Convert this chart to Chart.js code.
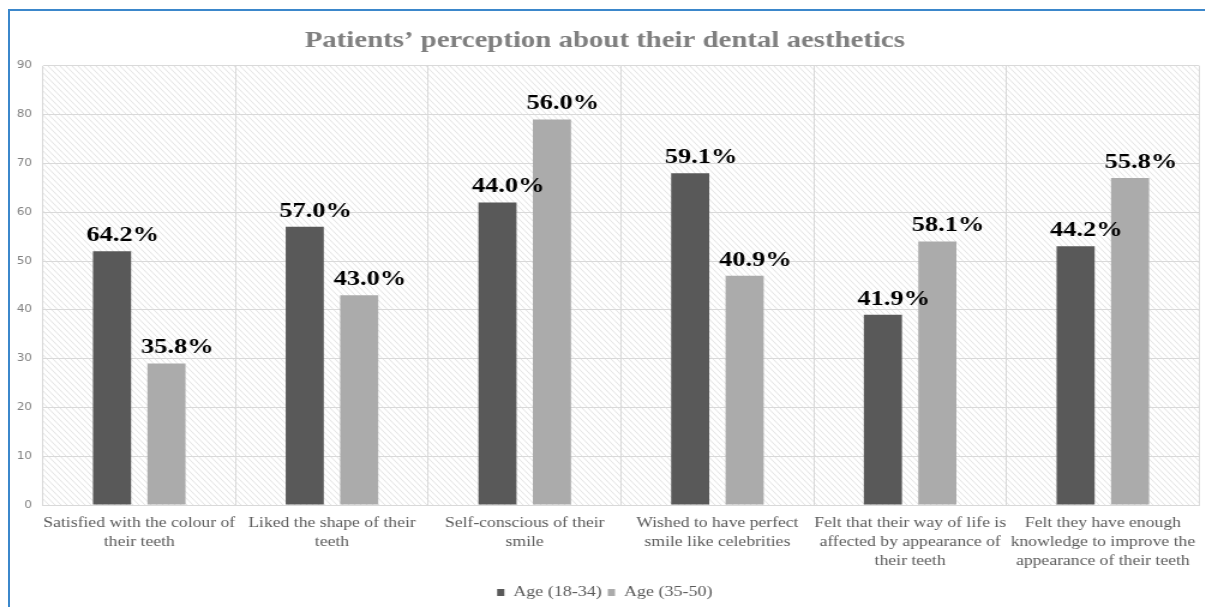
<!DOCTYPE html>
<html>
<head>
<meta charset="utf-8">
<script src="https://cdn.jsdelivr.net/npm/chart.js@4/dist/chart.umd.min.js"></script>
<style>
  html, body { margin: 0; padding: 0; background: #fff; overflow: hidden; }
  #wrap { position: relative; width: 1205px; height: 607px; }
  /* the source picture is stretched sideways, so the chart is too */
  #stretch { position: absolute; left: 0; top: 0; width: 1004px; height: 607px;
             transform: scaleX(1.2); transform-origin: 0 0; }
  #frame {
    position: absolute; left: 8px; top: 9px; right: 0; bottom: 0;
    border-top: 2px solid #3b87cb; border-left: 2px solid #3b87cb;
    pointer-events: none;
  }
</style>
</head>
<body>
<div id="wrap">
  <div id="stretch"><canvas id="chart" width="1004" height="607"></canvas></div>
  <div id="frame"></div>
</div>
<script>
const categories = [
  ['Satisfied with the colour of', 'their teeth'],
  ['Liked the shape of their', 'teeth'],
  ['Self-conscious of their', 'smile'],
  ['Wished to have perfect', 'smile like celebrities'],
  ['Felt that their way of life is', 'affected by appearance of', 'their teeth'],
  ['Felt they have enough', 'knowledge to improve the', 'appearance of their teeth'],
];
const younger = [52, 57, 62, 68, 39, 53];
const older = [29, 43, 79, 47, 54, 67];
const youngerPct = ['64.2%', '57.0%', '44.0%', '59.1%', '41.9%', '44.2%'];
const olderPct = ['35.8%', '43.0%', '56.0%', '40.9%', '58.1%', '55.8%'];
const yTicks = [0, 10, 20, 30, 40, 50, 60, 70, 80, 90];

const serif = '"Liberation Serif", "Times New Roman", serif';

// diagonal hatch behind the plot area
function hatchPattern(ctx) {
  const c = document.createElement('canvas');
  c.width = 5; c.height = 6;
  const p = c.getContext('2d');
  p.fillStyle = '#fff';
  p.fillRect(0, 0, 5, 6);
  p.strokeStyle = '#dcdcdc';
  p.lineWidth = 0.8;
  p.beginPath();
  p.moveTo(-5, -6); p.lineTo(10, 12);
  p.moveTo(-5, 0); p.lineTo(5, 12);
  p.moveTo(0, -6); p.lineTo(10, 6);
  p.stroke();
  return ctx.createPattern(c, 'repeat');
}

const hatchBg = {
  id: 'hatchBg',
  beforeDraw(chart) {
    const { ctx, chartArea: a } = chart;
    ctx.save();
    ctx.fillStyle = hatchPattern(ctx);
    ctx.fillRect(a.left, a.top, a.right - a.left, a.bottom - a.top);
    ctx.restore();
  }
};

const pctLabels = {
  id: 'pctLabels',
  afterDatasetsDraw(chart) {
    const ctx = chart.ctx;
    const texts = [youngerPct, olderPct];
    ctx.save();
    ctx.font = 'bold 22px ' + serif;
    ctx.fillStyle = '#000';
    ctx.textAlign = 'center';
    ctx.textBaseline = 'alphabetic';
    chart.data.datasets.forEach((ds, i) => {
      chart.getDatasetMeta(i).data.forEach((bar, j) => {
        ctx.fillText(texts[i][j], bar.x + 9, bar.y - 10);
      });
    });
    ctx.restore();
  }
};

new Chart(document.getElementById('chart'), {
  type: 'bar',
  data: {
    labels: categories,
    datasets: [
      { label: 'Age (18-34)', data: younger, backgroundColor: '#595959' },
      { label: 'Age (35-50)', data: older, backgroundColor: '#ababab' },
    ],
  },
  options: {
    responsive: false,
    animation: false,
    layout: { padding: { left: 5, right: 1, top: 26, bottom: -3 } },
    datasets: { bar: { categoryPercentage: 0.565, barPercentage: 0.7 } },
    scales: {
      x: {
        grid: { color: '#d9d9d9', drawTicks: false },
        border: { color: '#d9d9d9' },
        afterFit(axis) { axis.height = 75; },
        ticks: {
          color: '#595959',
          padding: 8,
          maxRotation: 0,
          autoSkip: false,
          font: { family: serif, size: 14.7, lineHeight: 1.32 },
        },
      },
      y: {
        min: 0,
        max: 90,
        afterBuildTicks(axis) { axis.ticks = yTicks.map(v => ({ value: v })); },
        grid: { color: '#d9d9d9', drawTicks: false },
        border: { display: false },
        ticks: {
          color: '#808080',
          padding: 9,
          font: { family: '"DejaVu Sans", sans-serif', size: 10 },
        },
      },
    },
    plugins: {
      title: {
        display: true,
        text: 'Patients\u2019 perception about their dental aesthetics',
        color: '#7f7f7f',
        padding: { top: 0, bottom: 11 },
        font: { family: serif, size: 24, weight: 'bold' },
      },
      legend: {
        position: 'bottom',
        labels: {
          color: '#595959',
          boxWidth: 6,
          boxHeight: 7,
          padding: 5,
          font: { family: serif, size: 15 },
        },
      },
      tooltip: { enabled: false },
    },
  },
  plugins: [hatchBg, pctLabels],
});
</script>
</body>
</html>
